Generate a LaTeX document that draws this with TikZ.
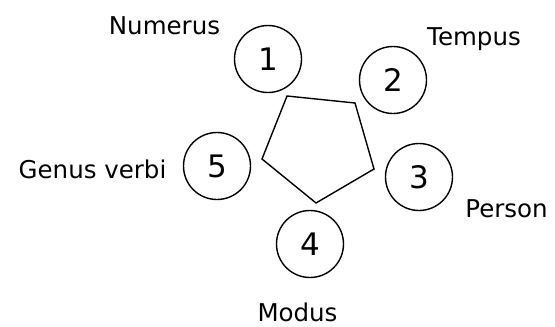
\documentclass[tikz,border=0pt]{standalone}
\usepackage{fontspec}
\setmainfont{DejaVu Sans}
\begin{document}
\begin{tikzpicture}[x=1pt,y=-1pt,
  num/.style={draw, circle, line width=1.4pt, minimum size=67pt, inner sep=0pt, font=\fontsize{31}{31}\selectfont},
  lbl/.style={anchor=base, inner sep=0pt, font=\fontsize{24.5}{25}\selectfont}]
\useasboundingbox (0,0) rectangle (555,327);
\node[num] (n1) at (268,59) {1};
\node[num] (n2) at (393,80) {2};
\node[num] (n3) at (419,177) {3};
\node[num] (n4) at (310,244) {4};
\node[num] (n5) at (217,166) {5};
\coordinate (p1) at (287,96);
\coordinate (p2) at (355,103);
\coordinate (p3) at (374,169);
\coordinate (p4) at (316,203);
\coordinate (p5) at (262,159);
\draw[line width=1.4pt, line join=miter] (p1) -- (p2) -- (p3) -- (p4) -- (p5) -- cycle;
\node[lbl] (t1) at (164.5,34) {Numerus};
\node[lbl] (t2) at (474,45) {Tempus};
\node[lbl] (t3) at (506.5,217) {Person};
\node[lbl] (t4) at (297.5,321.5) {Modus};
\node[lbl] (t5) at (92.5,178) {Genus verbi};
\end{tikzpicture}
\end{document}
